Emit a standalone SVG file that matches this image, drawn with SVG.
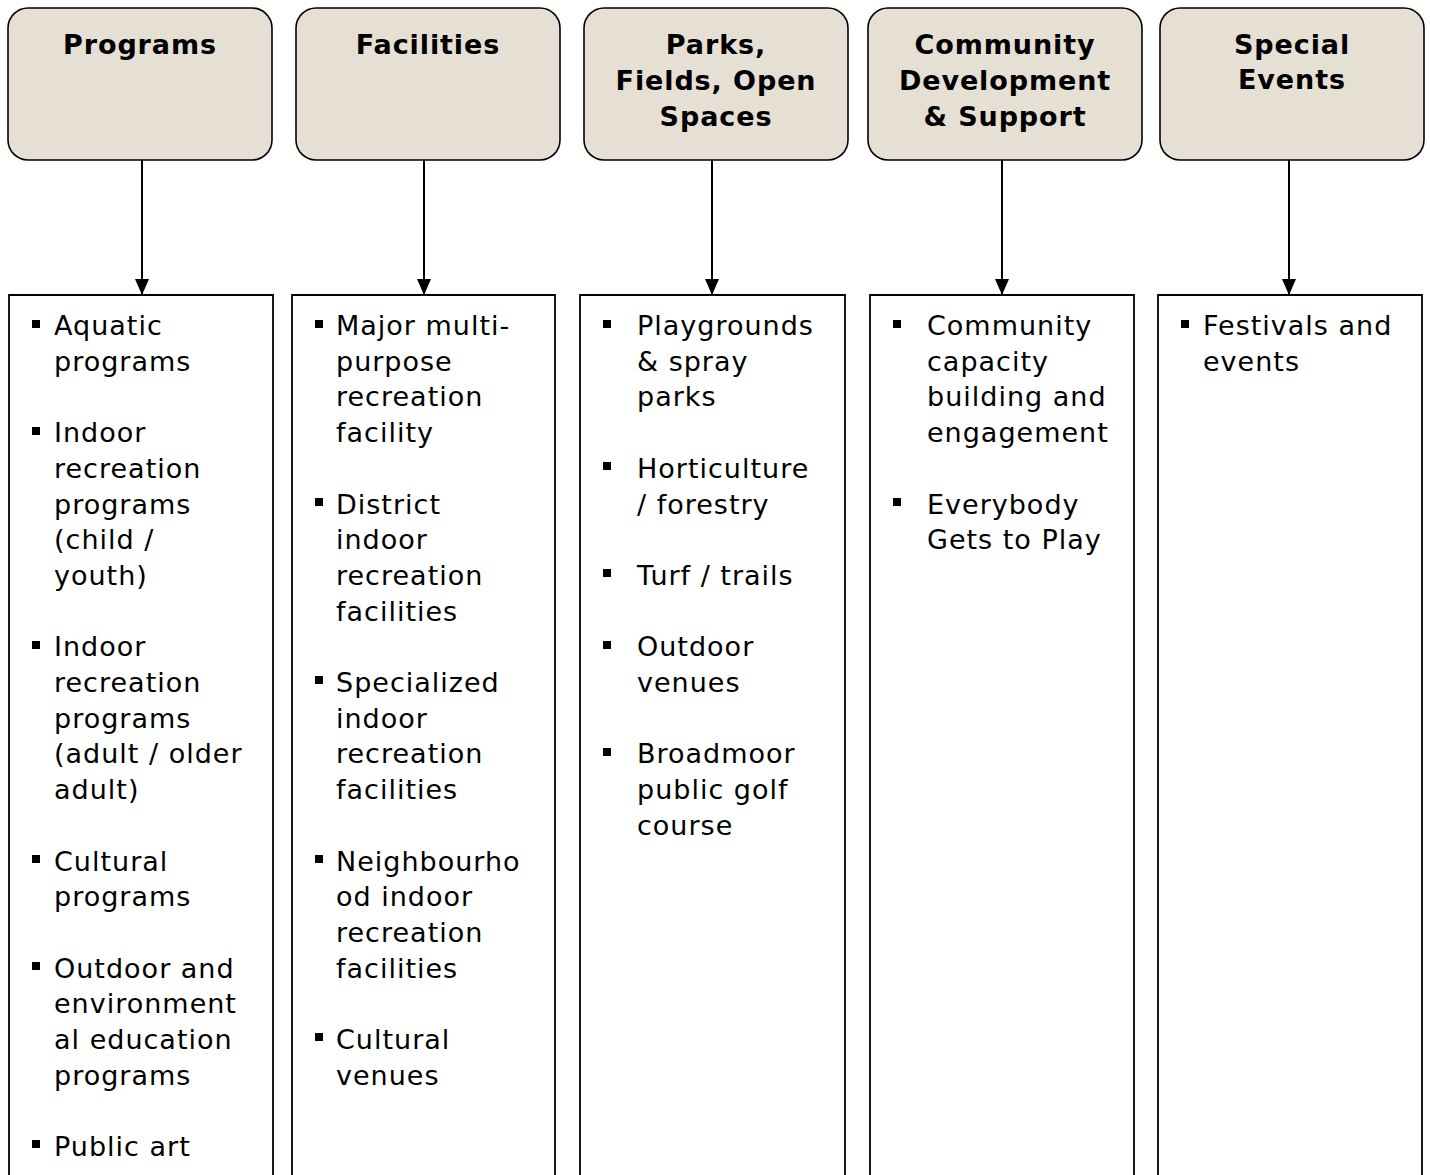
<svg xmlns="http://www.w3.org/2000/svg" width="1430" height="1175" viewBox="0 0 1430 1175">
<defs>
<marker id="ah" markerWidth="16" markerHeight="14" refX="16" refY="7" orient="auto" markerUnits="userSpaceOnUse" viewBox="0 0 16 14">
<path d="M0,0 L16,7 L0,14 Z" fill="#000"/>
</marker>
<style>
.hdr{fill:#E6DFD3;stroke:#000;stroke-width:1.6}
.box{fill:#fff;stroke:#000;stroke-width:1.8}
.ht{font-family:"DejaVu Sans",Verdana,sans-serif;font-weight:bold;font-size:27px;letter-spacing:0.9px;text-anchor:middle;fill:#000}
.bt{font-family:"DejaVu Sans",Verdana,sans-serif;font-size:27px;letter-spacing:1px;fill:#000}
.bul{fill:#000}
.con{stroke:#000;stroke-width:2;fill:none}
</style>
</defs>
<rect width="1430" height="1175" fill="#fff"/>

<g id="programs-header">
<rect class="hdr" x="8" y="8" width="264" height="152" rx="20"/>
<text class="ht" x="140" y="54">Programs</text>
</g>
<g id="facilities-header">
<rect class="hdr" x="296" y="8" width="264" height="152" rx="20"/>
<text class="ht" x="428" y="54">Facilities</text>
</g>
<g id="parks-header">
<rect class="hdr" x="584" y="8" width="264" height="152" rx="20"/>
<text class="ht" x="716" y="54">Parks,</text>
<text class="ht" x="716" y="90">Fields, Open</text>
<text class="ht" x="716" y="126">Spaces</text>
</g>
<g id="community-header">
<rect class="hdr" x="868" y="8" width="274" height="152" rx="20"/>
<text class="ht" x="1005" y="54">Community</text>
<text class="ht" x="1005" y="90">Development</text>
<text class="ht" x="1005" y="126">&amp; Support</text>
</g>
<g id="events-header">
<rect class="hdr" x="1160" y="8" width="264" height="152" rx="20"/>
<text class="ht" x="1292" y="54">Special</text>
<text class="ht" x="1292" y="89">Events</text>
</g>

<g id="connectors">
<line class="con" x1="142" y1="160" x2="142" y2="295" marker-end="url(#ah)"/>
<line class="con" x1="424" y1="160" x2="424" y2="295" marker-end="url(#ah)"/>
<line class="con" x1="712" y1="160" x2="712" y2="295" marker-end="url(#ah)"/>
<line class="con" x1="1002" y1="160" x2="1002" y2="295" marker-end="url(#ah)"/>
<line class="con" x1="1289" y1="160" x2="1289" y2="295" marker-end="url(#ah)"/>
</g>

<g id="programs-list">
<path class="box" d="M9,1180 V295 H273 V1180"/>
<rect class="bul" x="32" y="320" width="8" height="8"/>
<rect class="bul" x="32" y="427" width="8" height="8"/>
<rect class="bul" x="32" y="641" width="8" height="8"/>
<rect class="bul" x="32" y="855" width="8" height="8"/>
<rect class="bul" x="32" y="962" width="8" height="8"/>
<rect class="bul" x="32" y="1140" width="8" height="8"/>
<text class="bt" x="54" y="335">Aquatic</text>
<text class="bt" x="54" y="370.7">programs</text>
<text class="bt" x="54" y="442.1">Indoor</text>
<text class="bt" x="54" y="477.8">recreation</text>
<text class="bt" x="54" y="513.5">programs</text>
<text class="bt" x="54" y="549.2">(child /</text>
<text class="bt" x="54" y="584.9">youth)</text>
<text class="bt" x="54" y="656.3">Indoor</text>
<text class="bt" x="54" y="692">recreation</text>
<text class="bt" x="54" y="727.7">programs</text>
<text class="bt" x="54" y="763.4">(adult / older</text>
<text class="bt" x="54" y="799.1">adult)</text>
<text class="bt" x="54" y="870.5">Cultural</text>
<text class="bt" x="54" y="906.2">programs</text>
<text class="bt" x="54" y="977.6">Outdoor and</text>
<text class="bt" x="54" y="1013.3">environment</text>
<text class="bt" x="54" y="1049">al education</text>
<text class="bt" x="54" y="1084.7">programs</text>
<text class="bt" x="54" y="1156">Public art</text>
</g>

<g id="facilities-list">
<path class="box" d="M292,1180 V295 H555 V1180"/>
<rect class="bul" x="315" y="320" width="8" height="8"/>
<rect class="bul" x="315" y="498" width="8" height="8"/>
<rect class="bul" x="315" y="676" width="8" height="8"/>
<rect class="bul" x="315" y="855" width="8" height="8"/>
<rect class="bul" x="315" y="1033" width="8" height="8"/>
<text class="bt" x="336" y="335">Major multi-</text>
<text class="bt" x="336" y="370.7">purpose</text>
<text class="bt" x="336" y="406.4">recreation</text>
<text class="bt" x="336" y="442.1">facility</text>
<text class="bt" x="336" y="513.5">District</text>
<text class="bt" x="336" y="549.2">indoor</text>
<text class="bt" x="336" y="584.9">recreation</text>
<text class="bt" x="336" y="620.6">facilities</text>
<text class="bt" x="336" y="692">Specialized</text>
<text class="bt" x="336" y="727.7">indoor</text>
<text class="bt" x="336" y="763.4">recreation</text>
<text class="bt" x="336" y="799.1">facilities</text>
<text class="bt" x="336" y="870.5">Neighbourho</text>
<text class="bt" x="336" y="906.2">od indoor</text>
<text class="bt" x="336" y="941.9">recreation</text>
<text class="bt" x="336" y="977.6">facilities</text>
<text class="bt" x="336" y="1049">Cultural</text>
<text class="bt" x="336" y="1084.7">venues</text>
</g>

<g id="parks-list">
<path class="box" d="M580,1180 V295 H845 V1180"/>
<rect class="bul" x="603" y="320" width="8" height="8"/>
<rect class="bul" x="603" y="462" width="8" height="8"/>
<rect class="bul" x="603" y="569" width="8" height="8"/>
<rect class="bul" x="603" y="641" width="8" height="8"/>
<rect class="bul" x="603" y="748" width="8" height="8"/>
<text class="bt" x="637" y="335">Playgrounds</text>
<text class="bt" x="637" y="370.7">&amp; spray</text>
<text class="bt" x="637" y="406.4">parks</text>
<text class="bt" x="637" y="477.8">Horticulture</text>
<text class="bt" x="637" y="513.5">/ forestry</text>
<text class="bt" x="637" y="584.9">Turf / trails</text>
<text class="bt" x="637" y="656.3">Outdoor</text>
<text class="bt" x="637" y="692">venues</text>
<text class="bt" x="637" y="763.4">Broadmoor</text>
<text class="bt" x="637" y="799.1">public golf</text>
<text class="bt" x="637" y="834.8">course</text>
</g>

<g id="community-list">
<path class="box" d="M870,1180 V295 H1134 V1180"/>
<rect class="bul" x="893" y="320" width="8" height="8"/>
<rect class="bul" x="893" y="498" width="8" height="8"/>
<text class="bt" x="927" y="335">Community</text>
<text class="bt" x="927" y="370.7">capacity</text>
<text class="bt" x="927" y="406.4">building and</text>
<text class="bt" x="927" y="442.1">engagement</text>
<text class="bt" x="927" y="513.5">Everybody</text>
<text class="bt" x="927" y="549.2">Gets to Play</text>
</g>

<g id="events-list">
<path class="box" d="M1158,1180 V295 H1422 V1180"/>
<rect class="bul" x="1181" y="320" width="8" height="8"/>
<text class="bt" x="1203" y="335">Festivals and</text>
<text class="bt" x="1203" y="370.7">events</text>
</g>
</svg>
